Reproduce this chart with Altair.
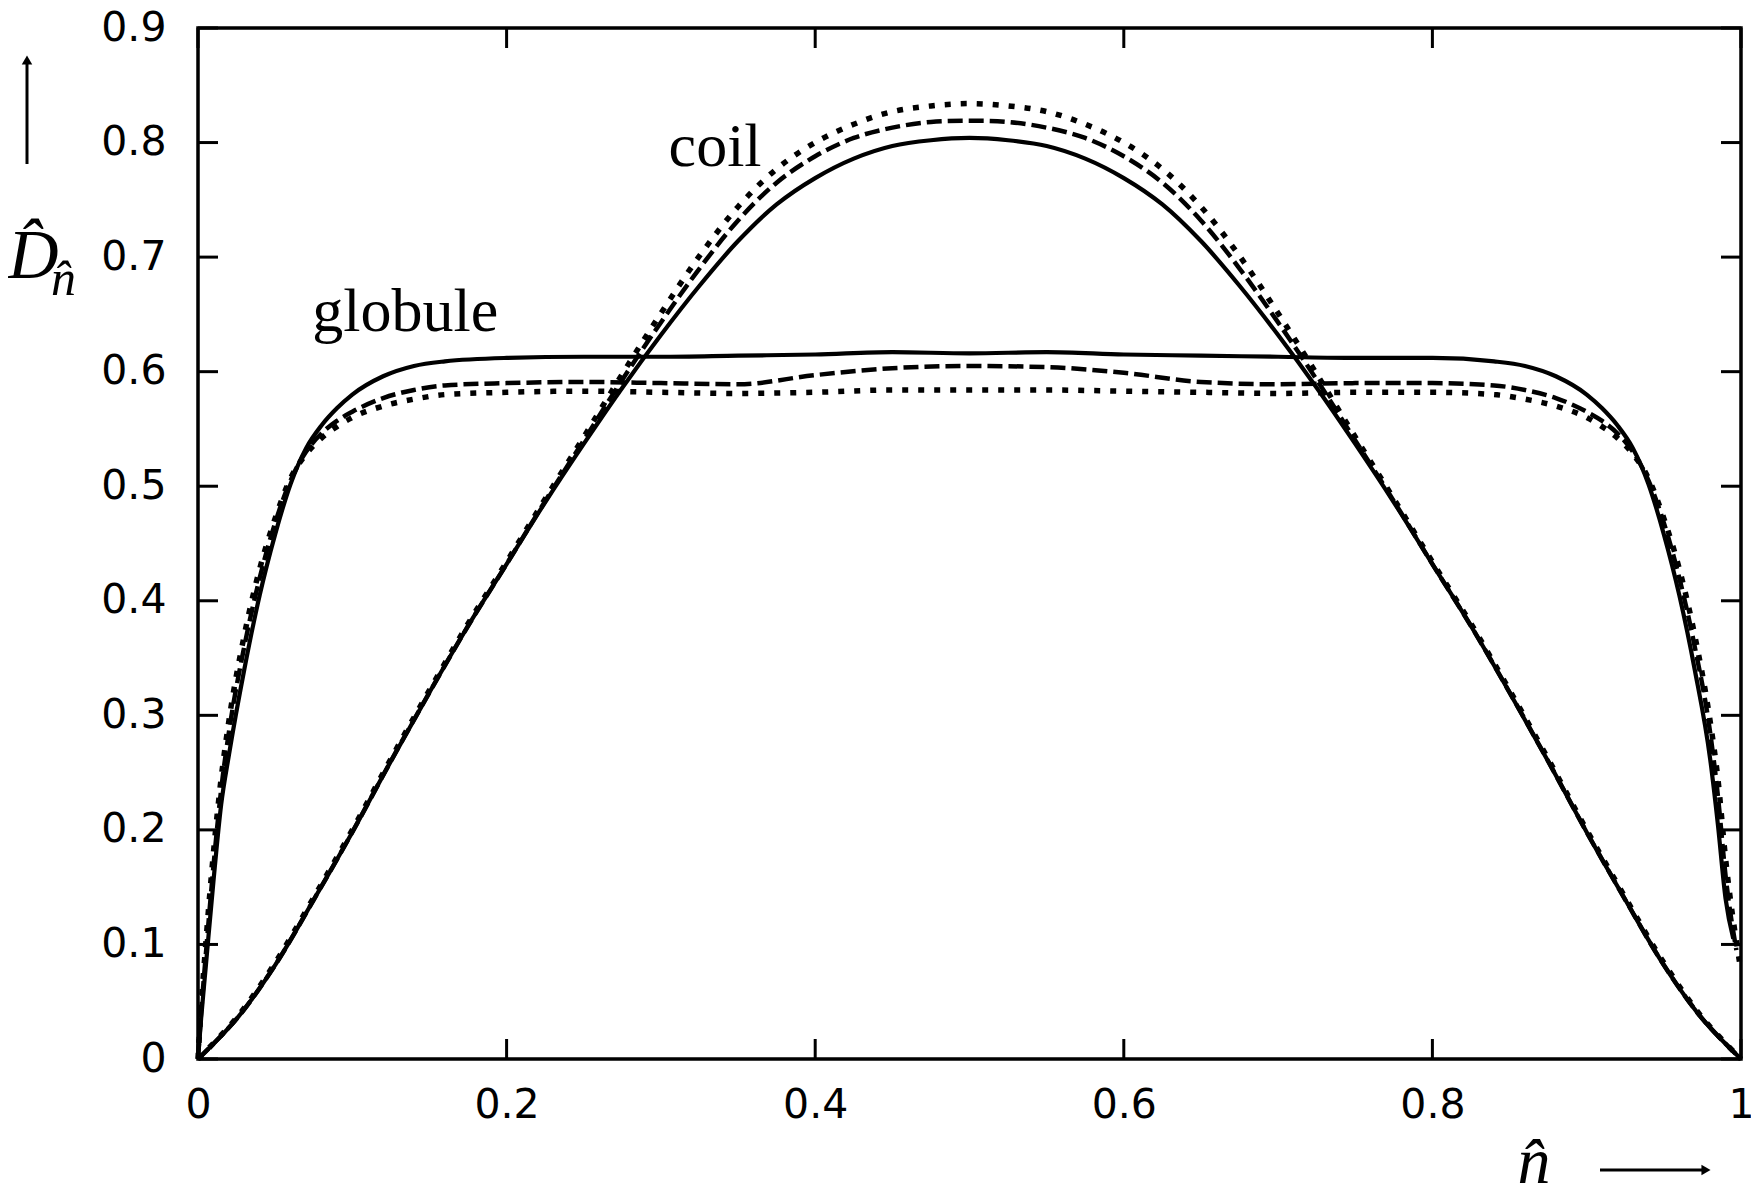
import altair as alt
import pandas as pd

# ---------------- data ----------------
coil_x = [0.0, 0.025, 0.05, 0.075, 0.1, 0.125, 0.15, 0.175, 0.2, 0.225, 0.25, 0.275, 0.3, 0.325,
          0.35, 0.375, 0.4, 0.425, 0.45, 0.475, 0.5, 0.525, 0.55, 0.575, 0.6, 0.625, 0.65, 0.675,
          0.7, 0.725, 0.75, 0.775, 0.8, 0.825, 0.85, 0.875, 0.9, 0.925, 0.95, 0.975, 1.0]
coil_solid = [0.000, 0.035, 0.082, 0.139, 0.198, 0.260, 0.320, 0.378, 0.432, 0.486, 0.537, 0.586,
              0.632, 0.675, 0.714, 0.746, 0.769, 0.786, 0.797, 0.802, 0.804, 0.802, 0.797, 0.786,
              0.769, 0.746, 0.714, 0.675, 0.632, 0.586, 0.537, 0.486, 0.432, 0.378, 0.320, 0.260,
              0.198, 0.139, 0.082, 0.035, 0.000]
coil_dashed = [0.000, 0.035, 0.082, 0.139, 0.198, 0.260, 0.320, 0.378, 0.432, 0.487, 0.540, 0.593,
               0.643, 0.690, 0.732, 0.765, 0.788, 0.804, 0.813, 0.818, 0.819, 0.818, 0.813, 0.804,
               0.788, 0.765, 0.732, 0.690, 0.643, 0.593, 0.540, 0.487, 0.432, 0.378, 0.320, 0.260,
               0.198, 0.139, 0.082, 0.035, 0.000]
coil_dotted = [0.000, 0.036, 0.084, 0.141, 0.200, 0.262, 0.322, 0.380, 0.434, 0.489, 0.543, 0.598,
               0.651, 0.701, 0.744, 0.777, 0.800, 0.816, 0.827, 0.832, 0.834, 0.832, 0.827, 0.816,
               0.800, 0.777, 0.744, 0.701, 0.651, 0.598, 0.543, 0.489, 0.434, 0.380, 0.322, 0.262,
               0.200, 0.141, 0.084, 0.036, 0.000]

glob_x = [0.0, 0.002, 0.005, 0.01, 0.015, 0.02, 0.03, 0.04, 0.05, 0.06, 0.07, 0.08, 0.09, 0.1,
          0.12, 0.14, 0.16, 0.2, 0.25, 0.3, 0.35, 0.4, 0.45, 0.5, 0.55, 0.6, 0.65, 0.7, 0.75, 0.8,
          0.84, 0.86, 0.88, 0.9, 0.91, 0.92, 0.93, 0.94, 0.95, 0.96, 0.97, 0.98, 0.985, 0.99]
glob_solid = [0.000, 0.035, 0.080, 0.155, 0.222, 0.265, 0.340, 0.405, 0.458, 0.502, 0.533, 0.553,
              0.568, 0.580, 0.596, 0.605, 0.609, 0.612, 0.613, 0.613, 0.614, 0.615, 0.617, 0.616,
              0.617, 0.615, 0.614, 0.613, 0.612, 0.612, 0.609, 0.605, 0.596, 0.580, 0.568, 0.553,
              0.533, 0.502, 0.458, 0.405, 0.340, 0.262, 0.205, 0.140]
glob_dashed = [0.000, 0.040, 0.090, 0.168, 0.235, 0.285, 0.360, 0.420, 0.468, 0.505, 0.530, 0.546,
               0.557, 0.565, 0.577, 0.584, 0.588, 0.590, 0.591, 0.590, 0.589, 0.597, 0.603, 0.605,
               0.604, 0.599, 0.591, 0.589, 0.590, 0.590, 0.588, 0.584, 0.577, 0.565, 0.557, 0.546,
               0.530, 0.505, 0.468, 0.420, 0.360, 0.285, 0.230, 0.160]
glob_dotted = [0.000, 0.045, 0.100, 0.180, 0.245, 0.295, 0.370, 0.428, 0.472, 0.507, 0.528, 0.542,
               0.552, 0.560, 0.570, 0.576, 0.580, 0.582, 0.583, 0.582, 0.581, 0.582, 0.584, 0.584,
               0.584, 0.583, 0.582, 0.581, 0.582, 0.582, 0.580, 0.576, 0.570, 0.560, 0.552, 0.542,
               0.528, 0.507, 0.472, 0.428, 0.370, 0.295, 0.245, 0.175]
# last sampled point of each globule curve (x, y)
glob_end_x = [0.995, 0.997, 0.999]
glob_end_y = [0.105, 0.095, 0.085]

x_ticks = [0, 0.2, 0.4, 0.6, 0.8, 1]
y_ticks = [0, 0.1, 0.2, 0.3, 0.4, 0.5, 0.6, 0.7, 0.8, 0.9]

labels = ["coil", "globule"]
label_x = [0.305, 0.074]
label_y = [0.7795, 0.6355]

# ---------------- chart ----------------
W, H = 1543, 1031
SANS = "DejaVu Sans"
SERIF = "Liberation Serif"

x_scale = alt.Scale(domain=[0, 1], nice=False, zero=False)
y_scale = alt.Scale(domain=[0, 0.9], nice=False, zero=False)
x_axis = alt.Axis(values=x_ticks, format="~g", ticks=False, tickSize=0, domain=False, grid=False,
                  title=None, labelFont=SANS, labelFontSize=41, labelColor="black",
                  labelPadding=26, labelFlush=False, labelOverlap=False)
y_axis = alt.Axis(values=y_ticks, format="~g", ticks=False, tickSize=0, domain=False, grid=False,
                  title=None, labelFont=SANS, labelFontSize=41, labelColor="black",
                  labelPadding=32, labelFlush=False, labelOverlap=False)

STYLES = {
    "solid": dict(strokeWidth=4.2),
    "dashed": dict(strokeWidth=4.5, strokeDash=[15, 6]),
    "dotted": dict(strokeWidth=5.5, strokeDash=[6, 10]),
}


def curve(xs, ys, style, interp):
    df = pd.DataFrame({"x": xs, "y": ys})
    return alt.Chart(df).mark_line(color="black", interpolate=interp,
                                   **STYLES[style]).encode(
        x=alt.X("x:Q", scale=x_scale, axis=x_axis),
        y=alt.Y("y:Q", scale=y_scale, axis=y_axis),
    )


layers = [
    curve(coil_x, coil_solid, "solid", "catmull-rom"),
    curve(coil_x, coil_dashed, "dashed", "catmull-rom"),
    curve(coil_x, coil_dotted, "dotted", "catmull-rom"),
    curve(glob_x + [glob_end_x[0]], glob_solid + [glob_end_y[0]], "solid", "monotone"),
    curve(glob_x + [glob_end_x[1]], glob_dashed + [glob_end_y[1]], "dashed", "monotone"),
    curve(glob_x + [glob_end_x[2]], glob_dotted + [glob_end_y[2]], "dotted", "monotone"),
]

# inward tick marks on all four sides
xt = pd.DataFrame({"t": x_ticks})
yt = pd.DataFrame({"t": y_ticks})
TL = 20
tick_kw = dict(color="black", strokeWidth=3)
layers += [
    alt.Chart(xt).mark_rule(**tick_kw).encode(
        x=alt.X("t:Q", scale=x_scale, axis=x_axis), y=alt.value(H), y2=alt.value(H - TL)),
    alt.Chart(xt).mark_rule(**tick_kw).encode(
        x=alt.X("t:Q", scale=x_scale, axis=x_axis), y=alt.value(0), y2=alt.value(TL)),
    alt.Chart(yt).mark_rule(**tick_kw).encode(
        y=alt.Y("t:Q", scale=y_scale, axis=y_axis), x=alt.value(0), x2=alt.value(TL)),
    alt.Chart(yt).mark_rule(**tick_kw).encode(
        y=alt.Y("t:Q", scale=y_scale, axis=y_axis), x=alt.value(W), x2=alt.value(W - TL)),
]

# curve labels
lab_df = pd.DataFrame({"label": labels, "x": label_x, "y": label_y})
layers.append(
    alt.Chart(lab_df).mark_text(font=SERIF, fontSize=62, align="left", baseline="alphabetic",
                                color="black").encode(
        x=alt.X("x:Q", scale=x_scale, axis=x_axis),
        y=alt.Y("y:Q", scale=y_scale, axis=y_axis),
        text="label:N")
)

one = pd.DataFrame({"k": [0]})
# y-axis title  D^_{n^}
layers += [
    alt.Chart(one).mark_text(text="D\u0302", font=SERIF, fontStyle="italic", fontSize=70,
                             align="left", baseline="alphabetic", color="black").encode(
        x=alt.value(-190), y=alt.value(250)),
    alt.Chart(one).mark_text(text="n\u0302", font=SERIF, fontStyle="italic", fontSize=50,
                             align="left", baseline="alphabetic", color="black").encode(
        x=alt.value(-147), y=alt.value(267)),
    # up arrow
    alt.Chart(one).mark_rule(color="black", strokeWidth=3).encode(
        x=alt.value(-171), y=alt.value(33), y2=alt.value(136)),
    alt.Chart(one).mark_point(shape="triangle-up", filled=True, color="black", size=110,
                              opacity=1).encode(x=alt.value(-171), y=alt.value(32)),
    # x-axis title n^
    alt.Chart(one).mark_text(text="n\u0302", font=SERIF, fontStyle="italic", fontSize=66,
                             align="center", baseline="alphabetic", color="black").encode(
        x=alt.value(1336), y=alt.value(1155)),
    # right arrow
    alt.Chart(one).mark_rule(color="black", strokeWidth=3).encode(
        x=alt.value(1402), x2=alt.value(1506), y=alt.value(1142)),
    alt.Chart(one).mark_point(shape="triangle-right", filled=True, color="black", size=110,
                              opacity=1).encode(x=alt.value(1508), y=alt.value(1142)),
]

chart = alt.layer(*layers).properties(
    width=W, height=H,
    autosize=alt.AutoSizeParams(type="none"),
    padding={"left": 190, "top": 20, "right": 10, "bottom": 128},
    background="white",
).configure_view(stroke="black", strokeWidth=3.5)

chart.save("out.html", embed_options={"renderer": "svg", "actions": False})
